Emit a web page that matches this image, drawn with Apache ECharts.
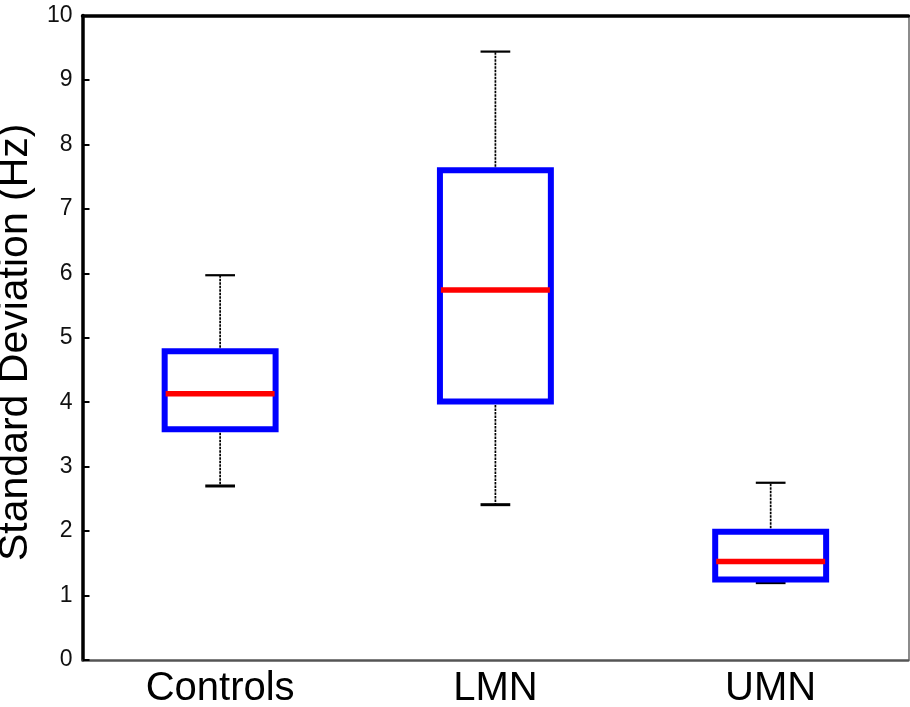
<!DOCTYPE html>
<html>
<head>
<meta charset="utf-8">
<script src="https://cdn.jsdelivr.net/npm/echarts@6/dist/echarts.min.js"></script>
<style>
html,body{margin:0;padding:0;background:#fff;}
#chart{width:910px;height:707px;}
</style>
</head>
<body>
<div id="chart"></div>
<script>
const categories = ['Controls', 'LMN', 'UMN'];
const whiskerLow = [2.70, 2.41, 1.20];
const q1 = [3.58, 4.01, 1.25];
const median = [4.13, 5.74, 1.53];
const q3 = [4.79, 7.60, 1.99];
const whiskerHigh = [5.97, 9.44, 2.75];
const yTicks = [0, 1, 2, 3, 4, 5, 6, 7, 8, 9, 10];

const FONT = 'Arial, "Liberation Sans", sans-serif';
const data = categories.map((c, i) => [i, whiskerLow[i], q1[i], median[i], q3[i], whiskerHigh[i]]);

function renderItem(params, api) {
  const i = api.value(0);
  const band = api.size([1, 0])[0];
  const boxW = band * 0.403;
  const capW = band * 0.108;
  const pLow = api.coord([i, api.value(1)]);
  const pQ1 = api.coord([i, api.value(2)]);
  const pMed = api.coord([i, api.value(3)]);
  const pQ3 = api.coord([i, api.value(4)]);
  const pHigh = api.coord([i, api.value(5)]);
  const cx = pMed[0];
  const whiskerStyle = { stroke: '#000', lineWidth: 1.7, lineDash: [2.5, 1] };
  return {
    type: 'group',
    children: [
      { type: 'line', shape: { x1: cx, y1: pQ3[1], x2: cx, y2: pHigh[1] }, style: whiskerStyle },
      { type: 'line', shape: { x1: cx, y1: pQ1[1], x2: cx, y2: pLow[1] }, style: whiskerStyle },
      { type: 'line', shape: { x1: cx - capW / 2, y1: pHigh[1], x2: cx + capW / 2, y2: pHigh[1] }, style: { stroke: '#000', lineWidth: 2.2 } },
      { type: 'line', shape: { x1: cx - capW / 2, y1: pLow[1], x2: cx + capW / 2, y2: pLow[1] }, style: { stroke: '#000', lineWidth: 3 } },
      { type: 'rect', shape: { x: cx - boxW / 2, y: pQ3[1], width: boxW, height: pQ1[1] - pQ3[1] }, style: { fill: '#fff', stroke: '#0000ff', lineWidth: 6 } },
      { type: 'line', shape: { x1: cx - boxW / 2 + 1, y1: pMed[1], x2: cx + boxW / 2 - 1, y2: pMed[1] }, style: { stroke: '#ff0000', lineWidth: 5.5 } }
    ]
  };
}

const chart = echarts.init(document.getElementById('chart'), null, { renderer: 'canvas' });
chart.setOption({
  animation: false,
  backgroundColor: '#fff',
  grid: { left: 82.5, right: 1.7, top: 15.5, bottom: 47, containLabel: false, outerBoundsMode: 'none' },
  xAxis: [
    {
      type: 'category',
      data: categories,
      boundaryGap: true,
      axisLine: { show: true, onZero: false, lineStyle: { color: '#555', width: 2.5 } },
      axisTick: { show: false },
      axisLabel: { color: '#000', fontSize: 40, fontFamily: FONT, margin: 9 },
      splitLine: { show: false }
    },
    {
      type: 'category',
      data: categories,
      position: 'top',
      axisLine: { show: true, onZero: false, lineStyle: { color: '#000', width: 3.5 } },
      axisTick: { show: false },
      axisLabel: { show: false },
      splitLine: { show: false }
    }
  ],
  yAxis: [
    {
      type: 'value',
      min: yTicks[0],
      max: yTicks[yTicks.length - 1],
      interval: 1,
      name: 'Standard Deviation (Hz)',
      nameLocation: 'middle',
      nameGap: 46,
      nameMoveOverlap: false,
      nameTextStyle: { color: '#000', fontSize: 41, fontFamily: FONT, padding: [0, 9, 0, 0] },
      axisLine: { show: true, onZero: false, lineStyle: { color: '#000', width: 3.5 } },
      axisTick: { show: true, inside: true, length: 7, lineStyle: { color: '#000', width: 2 } },
      axisLabel: { color: '#111', fontSize: 23, fontFamily: FONT, margin: 10 },
      splitLine: { show: false }
    },
    {
      type: 'value',
      min: yTicks[0],
      max: yTicks[yTicks.length - 1],
      interval: 1,
      position: 'right',
      axisLine: { show: true, onZero: false, lineStyle: { color: '#666', width: 1.5 } },
      axisTick: { show: false },
      axisLabel: { show: false },
      splitLine: { show: false }
    }
  ],
  series: [
    {
      type: 'custom',
      renderItem: renderItem,
      data: data,
      encode: { x: 0, y: [1, 2, 3, 4, 5] }
    }
  ]
});
</script>
</body>
</html>
